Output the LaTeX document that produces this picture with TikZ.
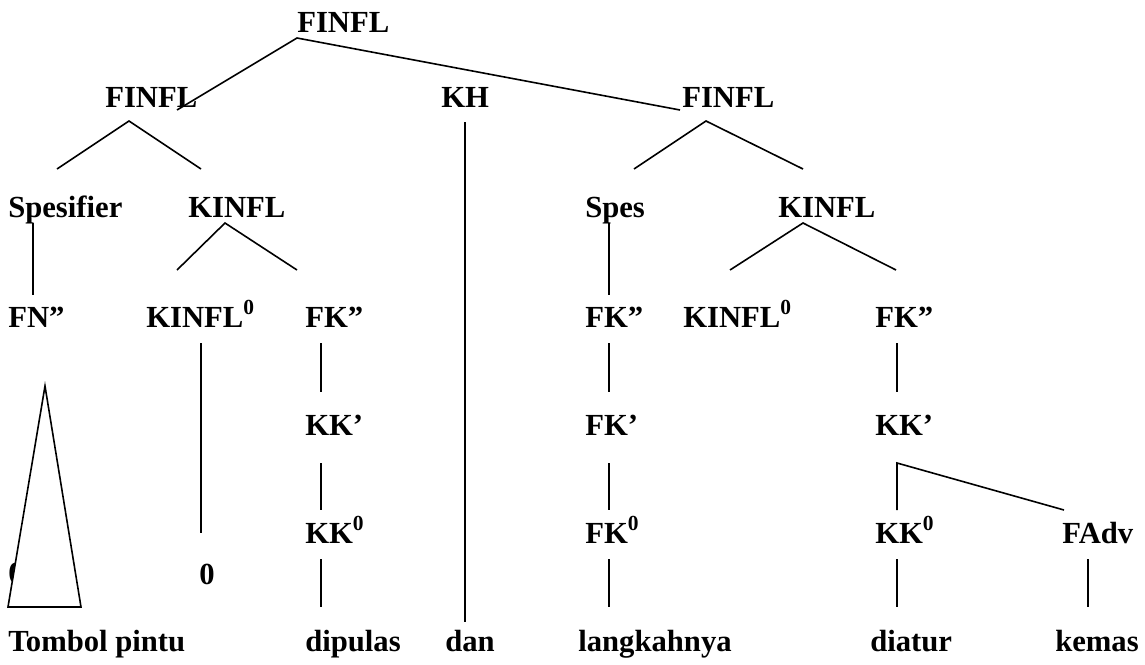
\documentclass[tikz,border=0pt]{standalone}
\usepackage{fontspec}
\setmainfont{Liberation Serif}
\begin{document}
\begin{tikzpicture}[x=0.75pt,y=-0.75pt,
  lbl/.style={anchor=base west,inner sep=0pt,font=\fontsize{23}{27}\selectfont\bfseries},
  edge/.style={line width=1.2pt}]
\useasboundingbox[fill=white] (0,0) rectangle (1145,664);
% labels
\node[lbl] (top) at (297,32) {FINFL};
\node[lbl] (fl) at (105,107) {FINFL};
\node[lbl] (kh) at (441,107) {KH};
\node[lbl] (fr) at (682,107) {FINFL};
\node[lbl] (spesa) at (8,217) {Spesifier};
\node[lbl] (kinfla) at (188,217) {KINFL};
\node[lbl] (spesb) at (585,217) {Spes};
\node[lbl] (kinflb) at (778,217) {KINFL};
\node[lbl] (fn) at (8,327) {FN”};
\node[lbl] (kizeroa) at (146,327) {KINFL\textsuperscript{0}};
\node[lbl] (fka) at (305,327) {FK”};
\node[lbl] (fkb) at (585,327) {FK”};
\node[lbl] (kizerob) at (683,327) {KINFL\textsuperscript{0}};
\node[lbl] (fkc) at (875,327) {FK”};
\node[lbl] (kka) at (305,435) {KK’};
\node[lbl] (fkpb) at (585,435) {FK’};
\node[lbl] (kkc) at (875,435) {KK’};
\node[lbl] (kkza) at (305,543) {KK\textsuperscript{0}};
\node[lbl] (fkzb) at (585,543) {FK\textsuperscript{0}};
\node[lbl] (kkzc) at (875,543) {KK\textsuperscript{0}};
\node[lbl] (fadv) at (1062,543) {FAdv};
\node[lbl] (hid) at (8,583) {0};
\node[lbl] (zero) at (199,584) {0};
\node[lbl] (wa) at (8,651) {Tombol pintu};
\node[lbl] (wb) at (305,651) {dipulas};
\node[lbl] (wc) at (445,651) {dan};
\node[lbl] (wd) at (578,651) {langkahnya};
\node[lbl] (we) at (870,651) {diatur};
\node[lbl] (wf) at (1055,651) {kemas};
% coordinates
\coordinate (t0) at (297,38);
\coordinate (t1) at (177,110);
\coordinate (t2) at (680,110);
\coordinate (la) at (129,121);
\coordinate (la1) at (57,169);
\coordinate (la2) at (201,169);
\coordinate (ra) at (706,121);
\coordinate (ra1) at (634,169);
\coordinate (ra2) at (803,169);
\coordinate (ka) at (225,223);
\coordinate (ka1) at (177,270);
\coordinate (ka2) at (297,270);
\coordinate (kb) at (803,223);
\coordinate (kb1) at (730,270);
\coordinate (kb2) at (896,270);
\coordinate (kh0) at (465,122);
\coordinate (kh1) at (465,622);
\coordinate (sa0) at (33,223);
\coordinate (sa1) at (33,295);
\coordinate (sb0) at (609,223);
\coordinate (sb1) at (609,295);
\coordinate (z0) at (201,343);
\coordinate (z1) at (201,533);
\coordinate (a0) at (321,343);
\coordinate (a1) at (321,392);
\coordinate (a2) at (321,463);
\coordinate (a3) at (321,510);
\coordinate (a4) at (321,559);
\coordinate (a5) at (321,607);
\coordinate (b0) at (609,343);
\coordinate (b1) at (609,392);
\coordinate (b2) at (609,463);
\coordinate (b3) at (609,510);
\coordinate (b4) at (609,559);
\coordinate (b5) at (609,607);
\coordinate (c0) at (897,343);
\coordinate (c1) at (897,392);
\coordinate (c2) at (897,463);
\coordinate (c3) at (897,510);
\coordinate (c4) at (897,559);
\coordinate (c5) at (897,607);
\coordinate (d2) at (1064,510);
\coordinate (d4) at (1088,559);
\coordinate (d5) at (1088,607);
\coordinate (tra) at (45,386);
\coordinate (trb) at (8,607);
\coordinate (trc) at (81,607);
% connectors
\draw[edge] (t1) -- (t0) -- (t2);
\draw[edge] (la1) -- (la) -- (la2);
\draw[edge] (ra1) -- (ra) -- (ra2);
\draw[edge] (ka1) -- (ka) -- (ka2);
\draw[edge] (kb1) -- (kb) -- (kb2);
\draw[edge] (kh0) -- (kh1);
\draw[edge] (sa0) -- (sa1);
\draw[edge] (sb0) -- (sb1);
\draw[edge] (z0) -- (z1);
\draw[edge] (a0) -- (a1) (a2) -- (a3) (a4) -- (a5);
\draw[edge] (b0) -- (b1) (b2) -- (b3) (b4) -- (b5);
\draw[edge] (c0) -- (c1) (c4) -- (c5);
\draw[edge] (c3) -- (c2) -- (d2);
\draw[edge] (d4) -- (d5);
\draw[edge,fill=white] (tra) -- (trb) -- (trc) -- cycle;
\end{tikzpicture}
\end{document}
